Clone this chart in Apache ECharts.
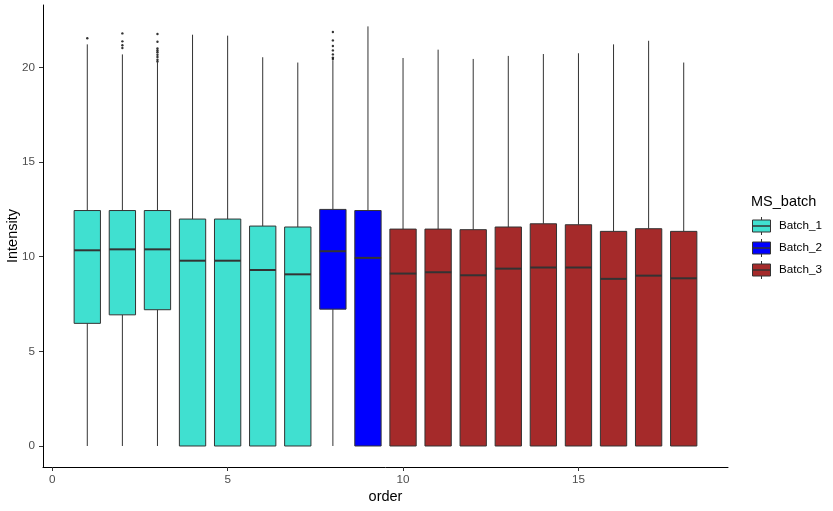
<!DOCTYPE html>
<html>
<head>
<meta charset="utf-8">
<script src="https://cdn.jsdelivr.net/npm/echarts@6/dist/echarts.min.js"></script>
<style>html,body{margin:0;padding:0;background:#fff}#c{width:833px;height:511px}</style>
</head>
<body>
<div id="c"></div>
<script>
const order = [1,2,3,4,5,6,7,8,9,10,11,12,13,14,15,16,17,18];
const batch = ['Batch_1','Batch_1','Batch_1','Batch_1','Batch_1','Batch_1','Batch_1','Batch_2','Batch_2','Batch_3','Batch_3','Batch_3','Batch_3','Batch_3','Batch_3','Batch_3','Batch_3','Batch_3'];
const whiskerLow = [0,0,0,0,0,0,0,0,0,0,0,0,0,0,0,0,0,0];
const q1 = [6.48,6.93,7.2,0,0,0,0,7.23,0,0,0,0,0,0,0,0,0,0];
const median = [10.34,10.39,10.39,9.79,9.79,9.3,9.07,10.29,9.94,9.11,9.18,9.02,9.37,9.43,9.43,8.83,9.0,8.86];
const q3 = [12.44,12.44,12.44,11.99,11.99,11.62,11.57,12.5,12.44,11.46,11.46,11.43,11.57,11.74,11.69,11.34,11.48,11.34];
const whiskerHigh = [21.22,20.69,20.27,21.73,21.68,20.54,20.26,20.38,22.17,20.5,20.94,20.45,20.61,20.71,20.75,21.22,21.41,20.26];
const outlierOrder = [1,2,2,2,2,3,3,3,3,3,3,3,3,3,8,8,8,8,8,8,8];
const outlierValue = [21.54,21.8,21.38,21.17,21.03,21.77,21.36,21.0,20.9,20.8,20.67,20.55,20.41,20.31,21.87,21.43,21.13,20.9,20.69,20.52,20.45];
const batchNames = ['Batch_1','Batch_2','Batch_3'];
const batchColors = ['#40E0D0','#0000FF','#A52A2A'];
const xTicks = [0,5,10,15];
const yTicks = [0,5,10,15,20];

const chart = echarts.init(document.getElementById('c'), null, {renderer:'canvas'});
const FONT = '"Liberation Sans", Arial, sans-serif';
const edge = '#333333';

function renderBox(params, api) {
  const x = api.value(0);
  const lo = api.coord([x, api.value(1)]);
  const b1 = api.coord([x, api.value(2)]);
  const md = api.coord([x, api.value(3)]);
  const b3 = api.coord([x, api.value(4)]);
  const hi = api.coord([x, api.value(5)]);
  const w = api.size([0.75, 0])[0];
  const fill = api.visual('color');
  const cx = lo[0];
  return {
    type: 'group',
    children: [
      {type:'line', shape:{x1:cx,y1:hi[1],x2:cx,y2:b3[1]}, style:{stroke:edge,lineWidth:1}},
      {type:'line', shape:{x1:cx,y1:b1[1],x2:cx,y2:lo[1]}, style:{stroke:edge,lineWidth:1}},
      {type:'rect', shape:{x:cx-w/2,y:b3[1],width:w,height:b1[1]-b3[1]}, style:{fill:fill,stroke:edge,lineWidth:1}},
      {type:'line', shape:{x1:cx-w/2,y1:md[1],x2:cx+w/2,y2:md[1]}, style:{stroke:edge,lineWidth:2}}
    ]
  };
}

const series = batchNames.map((name, k) => ({
  type: 'custom',
  name: name,
  renderItem: renderBox,
  itemStyle: {color: batchColors[k]},
  encode: {x: 0, y: [1,2,3,4,5]},
  data: order.map((o,i) => batch[i] === name ? [o, whiskerLow[i], q1[i], median[i], q3[i], whiskerHigh[i]] : null).filter(d => d),
  z: 2
}));
series.push({
  type: 'scatter',
  name: 'outliers',
  symbol: 'circle',
  symbolSize: 2.4,
  itemStyle: {color: '#000'},
  data: outlierOrder.map((o,i) => [o, outlierValue[i]]),
  z: 3
});

// legend drawn as graphic
const legendChildren = [
  {type:'text', x:751, y:202, style:{text:'MS_batch', font:'14.5px ' + FONT, fill:'#000', verticalAlign:'middle'}}
];
batchNames.forEach((name, k) => {
  const yc = 226 + k * 22;
  legendChildren.push(
    {type:'line', shape:{x1:761.5,y1:yc-9,x2:761.5,y2:yc+9}, style:{stroke:edge,lineWidth:1}},
    {type:'rect', shape:{x:752.5,y:yc-6,width:18,height:12}, style:{fill:batchColors[k],stroke:edge,lineWidth:1}},
    {type:'line', shape:{x1:752.5,y1:yc,x2:770.5,y2:yc}, style:{stroke:edge,lineWidth:1.5}},
    {type:'text', x:779, y:yc, style:{text:name, font:'11.7px ' + FONT, fill:'#000', verticalAlign:'middle'}}
  );
});

chart.setOption({
  animation: false,
  backgroundColor: '#fff',
  grid: {left: 43, right: 105, top: 5, bottom: 44, outerBoundsMode: 'none'},
  xAxis: {
    type: 'value', min: -0.2625, max: 19.2625,
    name: 'order', nameLocation: 'middle', nameGap: 22, nameMoveOverlap: false,
    nameTextStyle: {fontFamily: FONT, fontSize: 14.5, color: '#000'},
    axisLine: {show: true, onZero: false, lineStyle: {color: '#000', width: 1}},
    axisTick: {show: true, length: 4, customValues: xTicks, lineStyle: {color: '#333'}},
    axisLabel: {customValues: xTicks, margin: 7, fontFamily: FONT, fontSize: 11.7, color: '#4D4D4D'},
    splitLine: {show: false}
  },
  yAxis: {
    type: 'value', min: -1.11, max: 23.3,
    name: 'Intensity', nameLocation: 'middle', nameGap: 23, nameRotate: 90, nameMoveOverlap: false,
    nameTextStyle: {fontFamily: FONT, fontSize: 14.5, color: '#000'},
    axisLine: {show: true, onZero: false, lineStyle: {color: '#000', width: 1}},
    axisTick: {show: true, length: 4, customValues: yTicks, lineStyle: {color: '#333'}},
    axisLabel: {customValues: yTicks, margin: 8, fontFamily: FONT, fontSize: 11.7, color: '#4D4D4D'},
    splitLine: {show: false}
  },
  series: series,
  graphic: legendChildren
});
</script>
</body>
</html>
